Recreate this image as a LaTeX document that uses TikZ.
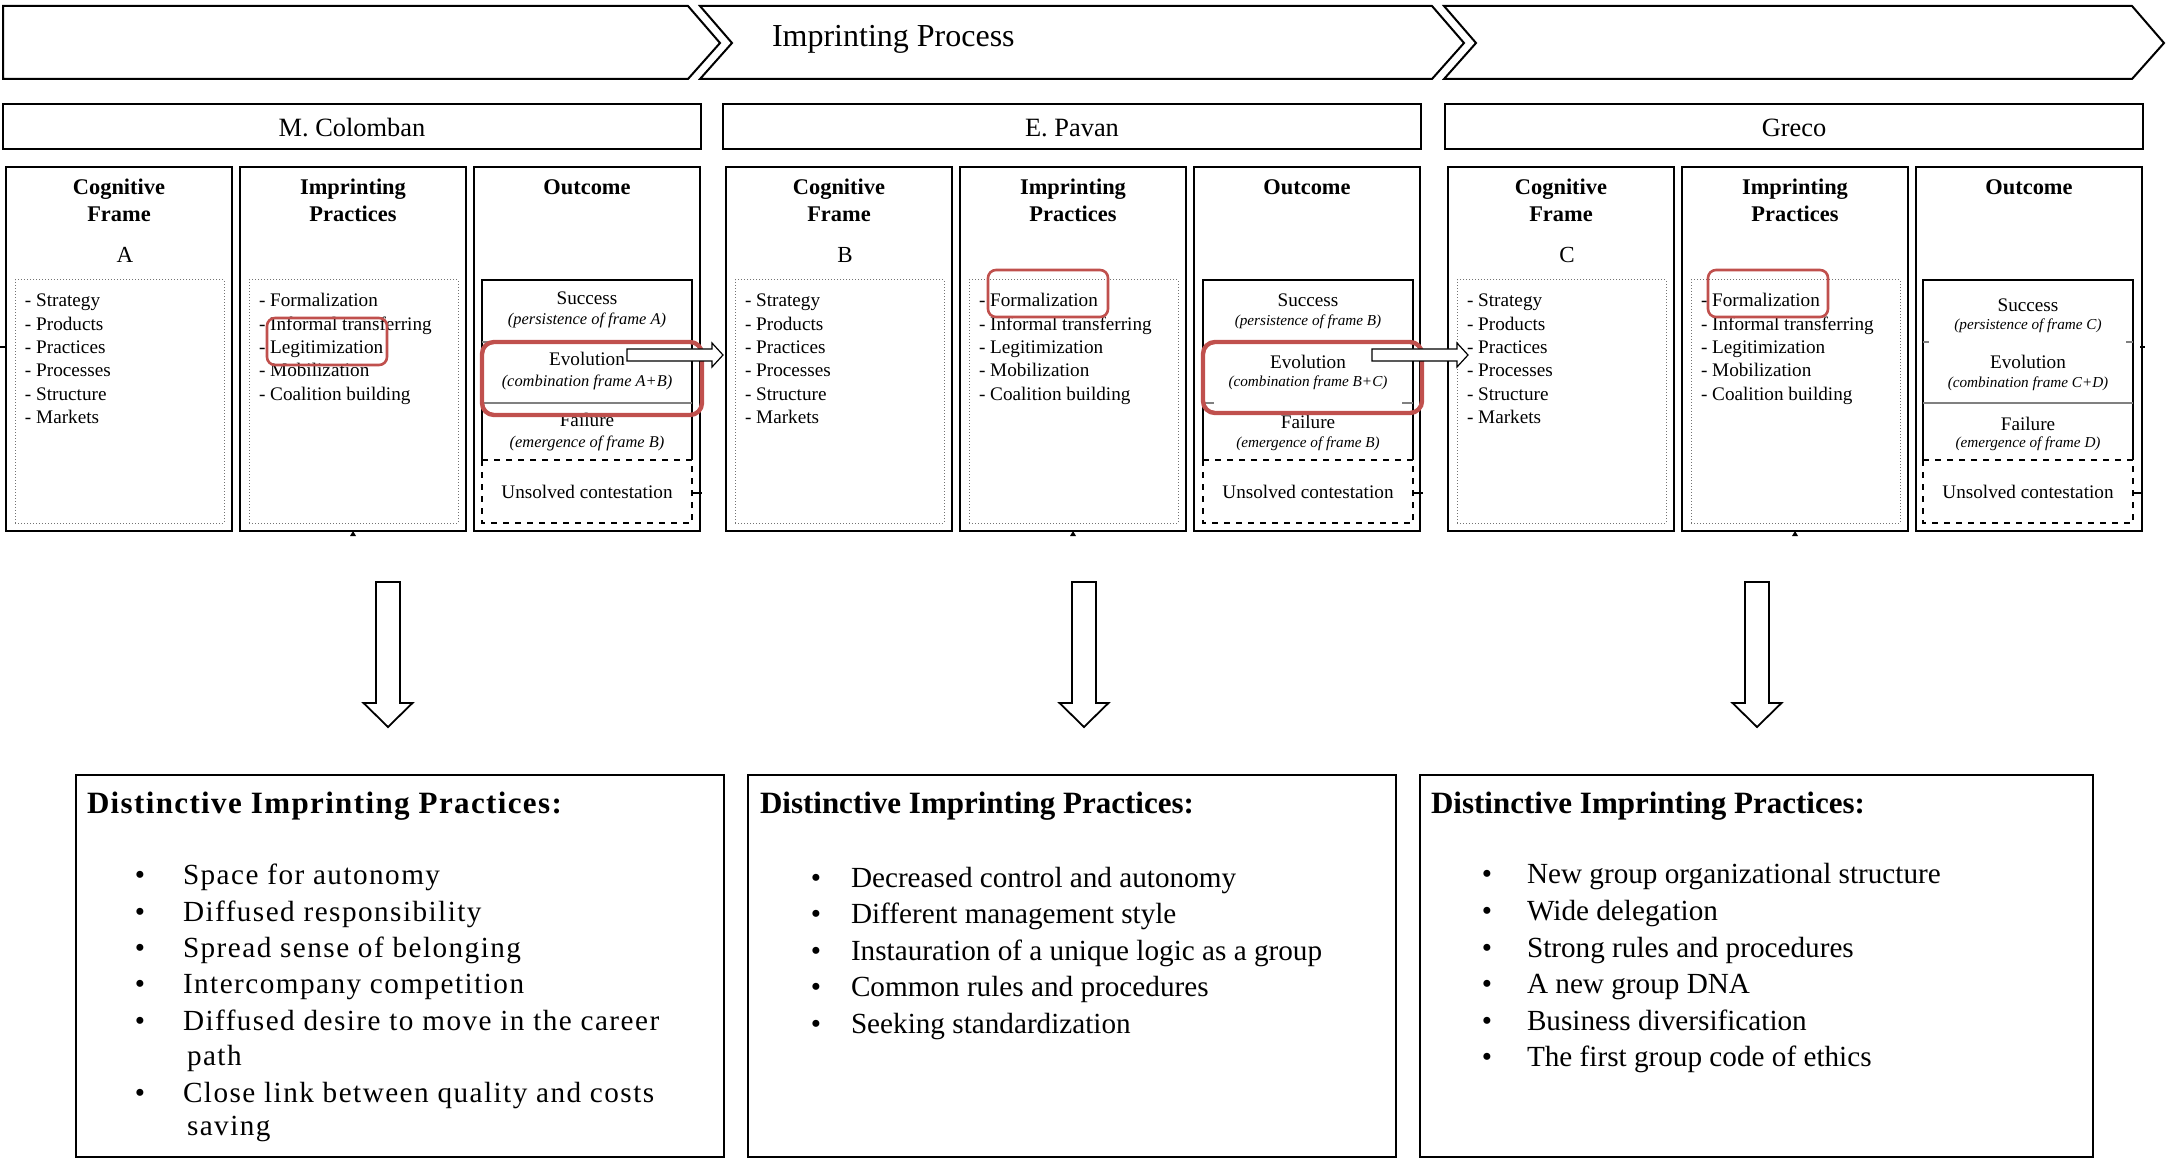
\documentclass[tikz,border=0pt]{standalone}
\usepackage{fontspec}
\setmainfont{Liberation Serif}
\newfontfamily\trackedtext[LetterSpace=5]{Liberation Serif}
\newfontfamily\trackedhead[LetterSpace=4.4]{Liberation Serif}
\definecolor{markred}{RGB}{192,80,77}
\definecolor{rulegrey}{RGB}{128,128,128}

\tikzset{
  every node/.style={inner sep=0pt, outer sep=0pt},
  boxline/.style={draw=black, line width=1pt},
  chevron/.style={draw=black, line width=1pt, line join=miter},
  bar/.style={boxline, anchor=north west, minimum width=349pt, minimum height=22.5pt},
  bartxt/.style={anchor=base, font=\fontsize{13.2}{15}\selectfont},
  colbox/.style={boxline, anchor=north west, minimum width=113pt, minimum height=182pt},
  hdr/.style={anchor=base, font=\fontsize{11.2}{13}\selectfont\bfseries},
  lettr/.style={anchor=base, font=\fontsize{11.5}{13}\selectfont},
  dotbox/.style={draw=black!55, densely dotted, line width=0.5pt, anchor=north west,
                 minimum width=104.5pt, minimum height=121.5pt},
  item/.style={anchor=base west, font=\fontsize{9.6}{11}\selectfont},
  olabel/.style={anchor=base, font=\fontsize{9.6}{11}\selectfont},
  onote/.style={anchor=base, font=\fontsize{8.2}{10}\selectfont\itshape},
  onotesmall/.style={anchor=base, font=\fontsize{7.6}{9}\selectfont\itshape},
  subline/.style={draw=black, line width=0.7pt},
  greyline/.style={draw=rulegrey, line width=0.7pt},
  dashbox/.style={draw=black, dashed, line width=0.7pt},
  markbox/.style={draw=markred, line width=1.3pt, rounded corners=4pt},
  evobox/.style={draw=markred, line width=2.2pt, rounded corners=6pt},
  blockarrow/.style={draw=black, line width=0.9pt, fill=white, line join=miter},
  thinarrow/.style={draw=black, line width=0.6pt, fill=white, line join=miter},
  btmbox/.style={boxline, anchor=north west, minimum height=191pt},
  bhead/.style={anchor=base west, font=\fontsize{15.5}{18}\selectfont\bfseries},
  bulletmark/.style={anchor=base, font=\fontsize{14.6}{17}\selectfont},
  btxt/.style={anchor=base west, font=\fontsize{14.6}{17}\selectfont},
  stub/.style={draw=black, line width=0.6pt},
}

% One actor panel: name bar, three columns, headers and the two item lists
% #1 left x, #2 id, #3 frame letter, #4 actor name
\newcommand\panelgroup[4]{%
  \node[bar] (bar#2) at (#1-3,104) {};
  \node[bartxt] (name#2) at (#1+346,137) {#4};
  \node[colbox] (cf#2) at (#1,167) {};
  \node[colbox] (ip#2) at (#1+234,167) {};
  \node[colbox] (oc#2) at (#1+468,167) {};
  \node[hdr] (cfa#2) at (#1+113,195) {Cognitive};
  \node[hdr] (cfb#2) at (#1+113,222) {Frame};
  \node[hdr] (ipa#2) at (#1+347,195) {Imprinting};
  \node[hdr] (ipb#2) at (#1+347,222) {Practices};
  \node[hdr] (oca#2) at (#1+581,195) {Outcome};
  \node[lettr] (let#2) at (#1+119,263) {#3};
  \node[dotbox] (cfl#2) at (#1+9,280) {};
  \node[dotbox] (ipl#2) at (#1+243,280) {};
  \foreach \t [count=\k] in {Strategy,Products,Practices,Processes,Structure,Markets}
    \node[item] (cfi#2-\k) at (#1+19,{307+23.3*(\k-1)}) {- \t};
  \foreach \t [count=\k] in {Formalization,Informal transferring,Legitimization,Mobilization,Coalition building}
    \node[item] (ipi#2-\k) at (#1+253,{307+23.3*(\k-1)}) {- \t};
  \fill (#1+344,536) -- (#1+350,536) -- (#1+347,531) -- cycle;
}

% Hollow downward block arrow centred on x = #1
\newcommand\downblock[1]{%
  \draw[blockarrow] (#1-12,582) -- (#1+12,582) -- (#1+12,703) -- (#1+24.5,703)
    -- (#1,727) -- (#1-24.5,703) -- (#1-12,703) -- cycle;
}

\begin{document}
\begin{tikzpicture}[x=0.5pt,y=-0.5pt]
\useasboundingbox (0,0) rectangle (2168,1160);

% process chevrons
\draw[chevron] (3,6) -- (688,6) -- (720,43) -- (688,79) -- (3,79) -- cycle;
\draw[chevron] (700,6) -- (1432,6) -- (1464,43) -- (1432,79) -- (700,79) -- (732,43) -- cycle;
\draw[chevron] (1444,6) -- (2132,6) -- (2164,43) -- (2132,79) -- (1444,79) -- (1476,43) -- cycle;
\node[anchor=base west, font=\fontsize{16}{19}\selectfont] (title) at (772,47) {Imprinting Process};

% panels
\panelgroup{6}{A}{A}{M. Colomban}
\panelgroup{726}{B}{B}{E. Pavan}
\panelgroup{1448}{C}{C}{Greco}

% outcome sub-boxes, panel A
\draw[subline] (482,460) -- (482,280) -- (692,280) -- (692,460);
\draw[greyline] (482,342) -- (692,342);
\draw[greyline] (482,403) -- (692,403);
\draw[dashbox] (482,460) rectangle (692,523);
\node[olabel] (sucA) at (587,305) {Success};
\node[onote] (sucnA) at (587,325) {(persistence of frame A)};
\node[olabel] (evoA) at (587,366) {Evolution};
\node[onote] (evonA) at (587,387) {(combination frame A+B)};
\node[olabel] (faiA) at (587,427) {Failure};
\node[onote] (fainA) at (587,448) {(emergence of frame B)};
\node[olabel] (unsA) at (587,498) {Unsolved contestation};

% outcome sub-boxes, panel B
\draw[subline] (1203,460) -- (1203,280) -- (1413,280) -- (1413,460);
\draw[greyline] (1203,403) -- (1214,403);
\draw[greyline] (1402,403) -- (1413,403);
\draw[dashbox] (1203,460) rectangle (1413,523);
\node[olabel] (sucB) at (1308,307) {Success};
\node[onotesmall] (sucnB) at (1308,326) {(persistence of frame B)};
\node[olabel] (evoB) at (1308,369) {Evolution};
\node[onotesmall] (evonB) at (1308,387) {(combination frame B+C)};
\node[olabel] (faiB) at (1308,429) {Failure};
\node[onotesmall] (fainB) at (1308,448) {(emergence of frame B)};
\node[olabel] (unsB) at (1308,498) {Unsolved contestation};

% outcome sub-boxes, panel C
\draw[subline] (1923,460) -- (1923,280) -- (2133,280) -- (2133,460);
\draw[greyline] (1923,342) -- (1929,342);
\draw[greyline] (2126,342) -- (2133,342);
\draw[greyline] (1923,403) -- (2133,403);
\draw[dashbox] (1923,460) rectangle (2133,523);
\node[olabel] (sucC) at (2028,312) {Success};
\node[onotesmall] (sucnC) at (2028,330) {(persistence of frame C)};
\node[olabel] (evoC) at (2028,369) {Evolution};
\node[onotesmall] (evonC) at (2028,388) {(combination frame C+D)};
\node[olabel] (faiC) at (2028,430) {Failure};
\node[onotesmall] (fainC) at (2028,448) {(emergence of frame D)};
\node[olabel] (unsC) at (2028,498) {Unsolved contestation};

% short connector stubs
\draw[stub] (0,347) -- (6,347);
\draw[stub] (692,493) -- (702,493);
\draw[stub] (1413,493) -- (1423,493);
\draw[stub] (2133,493) -- (2143,493);
\draw[stub] (2140,347) -- (2145,347);

% highlighted items
\draw[markbox] (267,318) rectangle (387,365);
\draw[markbox] (988,270) rectangle (1108,317);
\draw[markbox] (1708,270) rectangle (1828,317);
\draw[evobox] (482,342) rectangle (702,415);
\draw[evobox] (1203,342) rectangle (1422,413);

% evolution feeds the next cognitive frame
\draw[thinarrow] (627,349) -- (712,349) -- (712,343) -- (723,355) -- (712,367) -- (712,361) -- (627,361) -- cycle;
\draw[thinarrow] (1372,349) -- (1457,349) -- (1457,343) -- (1468,355) -- (1457,367) -- (1457,361) -- (1372,361) -- cycle;

% downward arrows to the practice summaries
\downblock{388}
\downblock{1084}
\downblock{1757}

% summary boxes
\node[btmbox, minimum width=324pt] (dp1) at (76,775) {};
\node[btmbox, minimum width=324pt] (dp2) at (748,775) {};
\node[btmbox, minimum width=336.5pt] (dp3) at (1420,775) {};

\node[bhead] (dph1) at (87,813) {\trackedhead Distinctive Imprinting Practices:};
\node[bhead] (dph2) at (760,813) {Distinctive Imprinting Practices:};
\node[bhead] (dph3) at (1431,813) {Distinctive Imprinting Practices:};

% list, panel A
\foreach \y [count=\k] in {884,921,957,993,1030,1102}
  \node[bulletmark] (bA\k) at (140,\y) {\textbullet};
\node[btxt] (tA1) at (183,884) {\trackedtext Space for autonomy};
\node[btxt] (tA2) at (183,921) {\trackedtext Diffused responsibility};
\node[btxt] (tA3) at (183,957) {\trackedtext Spread sense of belonging};
\node[btxt] (tA4) at (183,993) {\trackedtext Intercompany competition};
\node[btxt] (tA5) at (183,1030) {\trackedtext Diffused desire to move in the career};
\node[btxt] (tA5b) at (187,1065) {\trackedtext path};
\node[btxt] (tA6) at (183,1102) {\trackedtext Close link between quality and costs};
\node[btxt] (tA6b) at (187,1135) {\trackedtext saving};

% list, panel B
\foreach \y/\t [count=\k] in {887/Decreased control and autonomy,923.5/Different management style,
    960/Instauration of a unique logic as a group,996.5/Common rules and procedures,1033/Seeking standardization}{
  \node[bulletmark] (bB\k) at (816,\y) {\textbullet};
  \node[btxt] (tB\k) at (851,\y) {\t};
}

% list, panel C
\foreach \y/\t [count=\k] in {883/New group organizational structure,920/Wide delegation,
    957/Strong rules and procedures,993/A new group DNA,1030/Business diversification,1066/The first group code of ethics}{
  \node[bulletmark] (bC\k) at (1487,\y) {\textbullet};
  \node[btxt] (tC\k) at (1527,\y) {\t};
}
\end{tikzpicture}
\end{document}
